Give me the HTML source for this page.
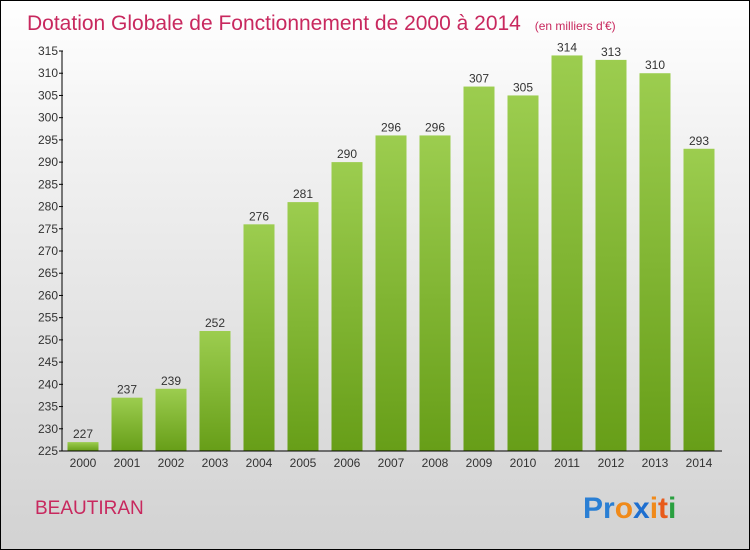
<!DOCTYPE html>
<html><head><meta charset="utf-8"><style>
body{margin:0}
#c{position:relative;width:748px;height:548px;border:1px solid #000;background:linear-gradient(#ffffff,#f0f0f0 30%,#d2d2d2);overflow:hidden;font-family:"Liberation Sans",sans-serif}
</style></head><body>
<div id="c">
<svg width="748" height="548">
<defs><linearGradient id="g" x1="0" y1="0" x2="0" y2="1"><stop offset="0" stop-color="#9ccd4f"/><stop offset="1" stop-color="#679e18"/></linearGradient></defs>
<text x="26" y="29" font-size="21" fill="#c8285e">Dotation Globale de Fonctionnement de 2000 à 2014 <tspan font-size="12" dx="8">(en milliers d'€)</tspan></text>
<g id="plot"></g>
<text x="34" y="513" font-size="19" fill="#c8285e">BEAUTIRAN</text>
<g font-size="30" font-weight="bold" font-family="'Liberation Sans',sans-serif">
<text x="582" y="517" fill="#2a7fd4">Pr<tspan fill="#f08a1a">o</tspan><tspan fill="#1e6fd0">x</tspan><tspan fill="#f08a1a">i</tspan><tspan fill="#e85a1a">t</tspan><tspan fill="#2aa040">i</tspan></text>
</g>
</svg></div>
<script>
const years=["2000","2001","2002","2003","2004","2005","2006","2007","2008","2009","2010","2011","2012","2013","2014"];
const values=[227,237,239,252,276,281,290,296,296,307,305,314,313,310,293];
const ticks=[225,230,235,240,245,250,255,260,265,270,275,280,285,290,295,300,305,310,315];
const yMin=225,yMax=315,plotTop=50,plotBot=450,x0=61,step=44;
const yS=v=>plotBot-(v-yMin)/(yMax-yMin)*(plotBot-plotTop);
const xc=i=>x0+21+i*step;
const ns="http://www.w3.org/2000/svg",p=document.getElementById('plot');
function mk(t,a,txt){const e=document.createElementNS(ns,t);for(const k in a)e.setAttribute(k,a[k]);if(txt!=null)e.textContent=txt;p.appendChild(e);return e;}
values.forEach((v,i)=>{
 const r=mk('rect',{x:xc(i)-15.5,y:yS(v),width:31,height:plotBot-yS(v),fill:'url(#g)'});
 
 
 const t=mk('text',{x:xc(i),y:yS(v)-4,'font-size':12,'text-anchor':'middle',fill:'#333'},v);
 
 
 const l=mk('text',{x:xc(i),y:plotBot+16,'font-size':12,'text-anchor':'middle',fill:'#333'},years[i]);
 
 
});
ticks.forEach(v=>{
 mk('line',{x1:x0-3,x2:x0+1,y1:yS(v),y2:yS(v),stroke:'#000'});
 const t=mk('text',{x:x0-4,y:yS(v)+4,'font-size':12,'text-anchor':'end',fill:'#333'},v);
 
 
});
const ya=mk('line',{x1:x0,x2:x0,y1:plotTop,y2:plotBot,stroke:'#000'});


const xa=mk('line',{x1:x0,x2:721,y1:plotBot,y2:plotBot,stroke:'#000'});


</script>
</body></html>
